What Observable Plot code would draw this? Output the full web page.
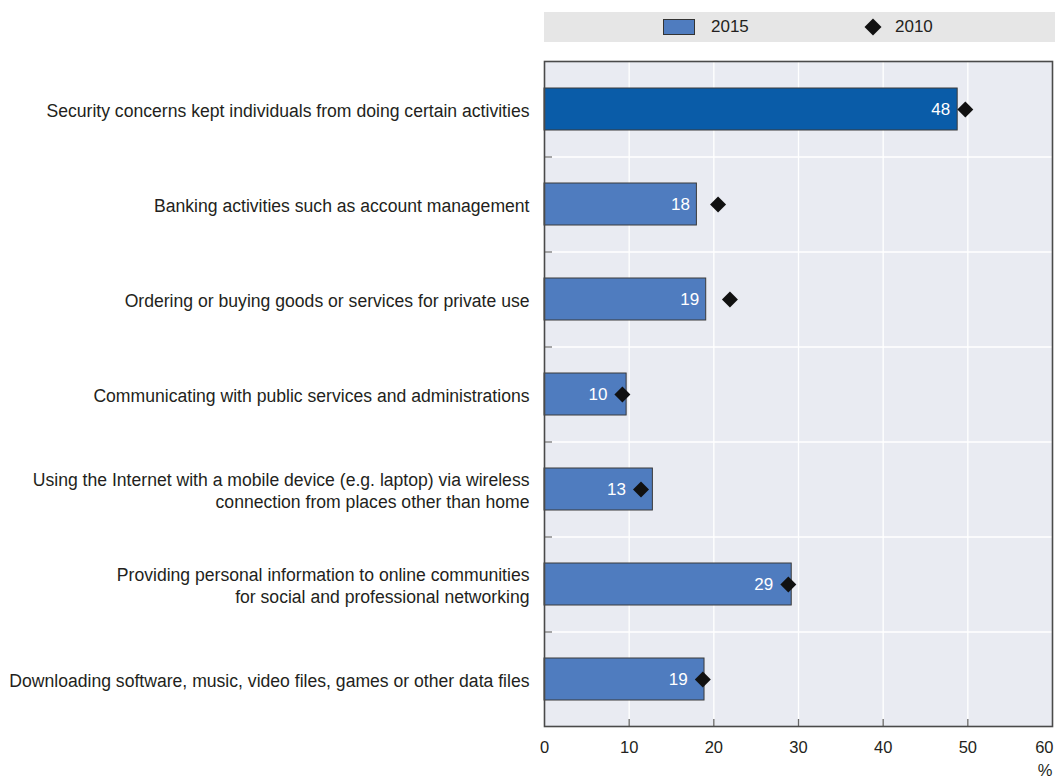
<!DOCTYPE html>
<html>
<head>
<meta charset="utf-8">
<script src="https://cdn.jsdelivr.net/npm/d3@7"></script>
<script src="https://cdn.jsdelivr.net/npm/@observablehq/plot@0.6"></script>
<style>
  html, body { margin: 0; padding: 0; background: #fff; }
  body { width: 1057px; height: 782px; position: relative; font-family: "Liberation Sans", Arial, sans-serif; color: #231f20; }
  #legend { position: absolute; left: 544px; top: 12px; width: 511px; height: 30px; background: #e6e6e6; }
  .lg-item { position: absolute; top: 0; height: 30px; display: flex; align-items: center; font-size: 17px; }
  .sw { width: 30px; height: 14px; background: #4f7cbf; border: 1px solid #333; margin-right: 16px; }
  .dm { width: 12px; height: 12px; background: #111; transform: rotate(45deg); margin-right: 16px; margin-left: 3px; }
  #chart { position: absolute; left: 0; top: 50px; }
</style>
</head>
<body>
<div id="legend">
  <div class="lg-item" style="left:119px"><div class="sw"></div><span>2015</span></div>
  <div class="lg-item" style="left:320px"><div class="dm"></div><span>2010</span></div>
</div>
<div id="chart"></div>
<script>
const categories = [
  "Security concerns kept individuals from doing certain activities",
  "Banking activities such as account management",
  "Ordering or buying goods or services for private use",
  "Communicating with public services and administrations",
  "Using the Internet with a mobile device (e.g. laptop) via wireless\nconnection from places other than home",
  "Providing personal information to online communities\nfor social and professional networking",
  "Downloading software, music, video files, games or other data files"
];
const values2015 = [48.8, 18.0, 19.1, 9.7, 12.8, 29.2, 18.9];
const labels2015 = ["48", "18", "19", "10", "13", "29", "19"];
const values2010 = [49.7, 20.5, 21.9, 9.2, 11.4, 28.8, 18.7];
const xTicks = [0, 10, 20, 30, 40, 50, 60];
const highlight = categories[0];

const data = categories.map((c, i) => ({cat: c, v2015: values2015[i], lab: labels2015[i], v2010: values2010[i]}));

const W = 1057, H = 732, mT = 11, mB = 56, mL = 544, mR = 5;
const plotH = H - mT - mB;
const bandStep = plotH / categories.length;
const innerTicks = xTicks.filter(t => t > 0 && t < 60);
const lastTick = xTicks[xTicks.length - 1];
const boundaries = categories.slice(1);
const font = '"Liberation Sans", Arial, sans-serif';

const chart = Plot.plot({
  width: W,
  height: H,
  marginTop: mT,
  marginBottom: mB,
  marginLeft: mL,
  marginRight: mR,
  style: {fontFamily: font, color: "#231f20", background: "transparent"},
  x: {domain: [0, 60]},
  y: {domain: categories, paddingInner: 0.56, paddingOuter: 0.28, align: 0.5},
  marks: [
    Plot.frame({fill: "#e9ebf2", stroke: null}),
    Plot.gridX(innerTicks, {stroke: "#ffffff", strokeOpacity: 1, strokeWidth: 1.3}),
    Plot.ruleY(boundaries, {y: d => d, stroke: "#ffffff", strokeWidth: 1.3, dy: -bandStep / 2}),
    Plot.ruleY(boundaries, {y: d => d, x1: 0, x2: 0.95, stroke: "#777", strokeWidth: 1.3, dy: -bandStep / 2}),
    Plot.ruleX(innerTicks, {stroke: "#666", strokeWidth: 1.3, insetTop: plotH - 7}),
    Plot.barX(data, {
      y: "cat", x: "v2015",
      fill: d => d.cat === highlight ? "#0a5ca8" : "#4f7cbf",
      stroke: "#3a3a3a", strokeWidth: 1
    }),
    Plot.text(data, {
      y: "cat", x: d => Math.min(d.v2015, d.v2010 - 0.95), text: "lab",
      textAnchor: "end", dx: -7, fill: "white", fontSize: 17
    }),
    Plot.dot(data, {
      y: "cat", x: "v2010", symbol: "diamond2", r: 7.2, fill: "#111", stroke: null
    }),
    Plot.frame({stroke: "#4a4a4a", strokeWidth: 1.6}),
    Plot.axisY({
      tickSize: 0, tickPadding: 15, fontSize: 17.6, lineHeight: 1.25, label: null
    }),
    Plot.axisX(xTicks.slice(0, -1), {
      tickSize: 0, tickPadding: 15, fontSize: 16.5, label: null
    }),
    Plot.text([lastTick], {
      x: d => d, frameAnchor: "bottom", dy: 15, lineAnchor: "top", textAnchor: "end", dx: 1, fontSize: 16.5
    }),
    Plot.text(["%"], {
      frameAnchor: "bottom-right", dy: 49, textAnchor: "end", fontSize: 16.5
    })
  ]
});
document.getElementById("chart").appendChild(chart);
</script>
</body>
</html>
